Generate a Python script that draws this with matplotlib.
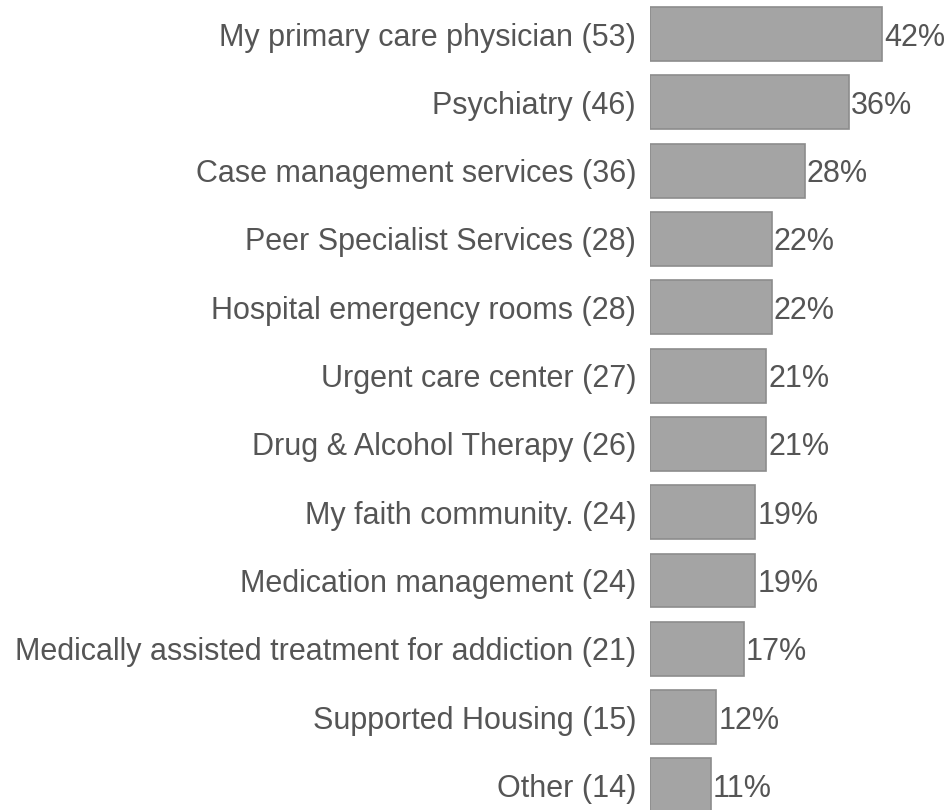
import matplotlib
matplotlib.use("Agg")
import matplotlib.pyplot as plt

categories = [
    "My primary care physician (53)",
    "Psychiatry (46)",
    "Case management services (36)",
    "Peer Specialist Services (28)",
    "Hospital emergency rooms (28)",
    "Urgent care center (27)",
    "Drug & Alcohol Therapy (26)",
    "My faith community. (24)",
    "Medication management (24)",
    "Medically assisted treatment for addiction (21)",
    "Supported Housing (15)",
    "Other (14)",
]
percents = [42, 36, 28, 22, 22, 21, 21, 19, 19, 17, 12, 11]

text_color = "#555555"
plt.rcParams["font.family"] = ["Liberation Sans", "DejaVu Sans"]
fs = 22

fig = plt.figure(figsize=(9.48, 8.10), dpi=100)
ax = fig.add_axes([650 / 948, 0, 298 / 948, 1])

ypos = list(range(len(categories)))
ax.barh(ypos, percents, height=0.79, color="#a4a4a4", edgecolor="#8c8c8c", linewidth=1.2)

for y, p in zip(ypos, percents):
    ax.text(p + 0.4, y, f"{p}%", va="center_baseline", ha="left", fontsize=fs, color=text_color)

ax.set_xlim(0, 53.95)
ax.set_ylim(11.36, -0.498)
ax.set_yticks(ypos)
ax.set_yticklabels(categories, fontsize=fs, color=text_color, va="center_baseline")
ax.tick_params(axis="y", length=0, pad=10)
ax.set_xticks([])
for s in ax.spines.values():
    s.set_visible(False)

fig.savefig("out.png", dpi=100, facecolor="white")
